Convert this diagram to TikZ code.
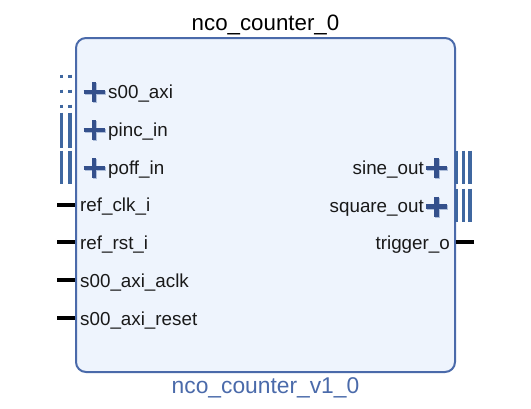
\documentclass[tikz,border=0pt]{standalone}
\usepackage{fontspec}
\setmainfont{Liberation Sans}
\usetikzlibrary{calc}
\definecolor{ipfill}{HTML}{EEF4FD}
\definecolor{ipline}{HTML}{4A6AAA}
\definecolor{busblue}{HTML}{3F67A0}
\definecolor{plusblue}{HTML}{34508C}
\definecolor{plusshade}{HTML}{AEBEDA}
\tikzstyle{block}=[draw=ipline,fill=ipfill,line width=2pt,rounded corners=10pt,minimum width=379pt,minimum height=334pt,inner sep=0pt]
\tikzstyle{port}=[font=\fontsize{18.8}{20}\selectfont,text=black!90,inner sep=0pt]
\tikzstyle{title}=[font=\fontsize{22.3}{24}\selectfont,inner sep=0pt]
\tikzstyle{wire}=[draw,line width=4.5pt]
\tikzstyle{bus}=[draw=busblue,line width=3.3pt]
\tikzstyle{axi}=[bus,dash pattern=on 3pt off 12pt]
\tikzstyle{plus}=[draw=plusblue,line width=4.5pt]
\tikzstyle{plusbg}=[draw=plusshade,line width=4.5pt]

\begin{document}
\begin{tikzpicture}[x=1pt,y=-1pt]
    \useasboundingbox (0,0) rectangle (531,408);
    \node[block] (ip) at (265.5,205) {};
    \node[title,anchor=base] (inst) at (265.5,30) {nco\_counter\_0};
    \node[title,anchor=base,text=ipline,font=\fontsize{22.8}{24}\selectfont] (ver) at (265.5,393) {nco\_counter\_v1\_0};
        \node[port,anchor=base west] (axi) at (108,98) {s00\_axi};
        \node[port,anchor=base west] (pinc) at (108,136) {pinc\_in};
        \node[port,anchor=base west] (poff) at (108,174) {poff\_in};
        \node[port,anchor=base west] (clk) at (80,211.5) {ref\_clk\_i};
        \node[port,anchor=base west] (rst) at (80,249) {ref\_rst\_i};
        \node[port,anchor=base west] (aclk) at (80,287) {s00\_axi\_aclk};
        \node[port,anchor=base west] (areset) at (80,325) {s00\_axi\_reset};
        \node[port,anchor=base east] (sine) at (424,174) {sine\_out};
        \node[port,anchor=base east] (square) at (424,212.5) {square\_out};
        \node[port,anchor=base east] (trig) at (450,249) {trigger\_o};
        \coordinate (clkend) at (57,205);
        \coordinate (rstend) at (57,242);
        \coordinate (aclkend) at (57,280);
        \coordinate (aresetend) at (57,318);
        \coordinate (trigend) at (474,242);
        \path[wire] (clkend) -- (clkend -| ip.west);
        \path[wire] (rstend) -- (rstend -| ip.west);
        \path[wire] (aclkend) -- (aclkend -| ip.west);
        \path[wire] (aresetend) -- (aresetend -| ip.west);
        \path[wire] (trigend) -- (trigend -| ip.east);
    \draw[axi] (61.5,74.5) -- (61.5,110);
    \draw[axi] (70,74.5) -- (70,110);
    \draw[bus] (61.5,112.5) -- (61.5,147.5);
    \draw[bus] (70,112.5) -- (70,147.5);
    \draw[bus] (61.5,150.5) -- (61.5,184);
    \draw[bus] (70,150.5) -- (70,184);
    \draw[bus] (456.7,150.5) -- (456.7,184);
    \draw[bus] (463.3,150.5) -- (463.3,184);
    \draw[bus] (470,150.5) -- (470,184);
    \draw[bus] (456.7,188.5) -- (456.7,222);
    \draw[bus] (463.3,188.5) -- (463.3,222);
    \draw[bus] (470,188.5) -- (470,222);
    \draw[plusbg] (95,93) +(-10.5,0) -- +(10.5,0) (95,93) +(0,-10) -- +(0,10);
    \draw[plus] (94,92) +(-10.5,0) -- +(10.5,0) (94,92) +(0,-10) -- +(0,10);
    \draw[plusbg] (95,131) +(-10.5,0) -- +(10.5,0) (95,131) +(0,-10) -- +(0,10);
    \draw[plus] (94,130) +(-10.5,0) -- +(10.5,0) (94,130) +(0,-10) -- +(0,10);
    \draw[plusbg] (95,169) +(-10.5,0) -- +(10.5,0) (95,169) +(0,-10) -- +(0,10);
    \draw[plus] (94,168) +(-10.5,0) -- +(10.5,0) (94,168) +(0,-10) -- +(0,10);
    \draw[plusbg] (437.7,169) +(-10.5,0) -- +(10.5,0) (437.7,169) +(0,-10) -- +(0,10);
    \draw[plus] (436.7,168) +(-10.5,0) -- +(10.5,0) (436.7,168) +(0,-10) -- +(0,10);
    \draw[plusbg] (437.7,207.5) +(-10.5,0) -- +(10.5,0) (437.7,207.5) +(0,-10) -- +(0,10);
    \draw[plus] (436.7,206.5) +(-10.5,0) -- +(10.5,0) (436.7,206.5) +(0,-10) -- +(0,10);
    \end{tikzpicture}
\end{document}
